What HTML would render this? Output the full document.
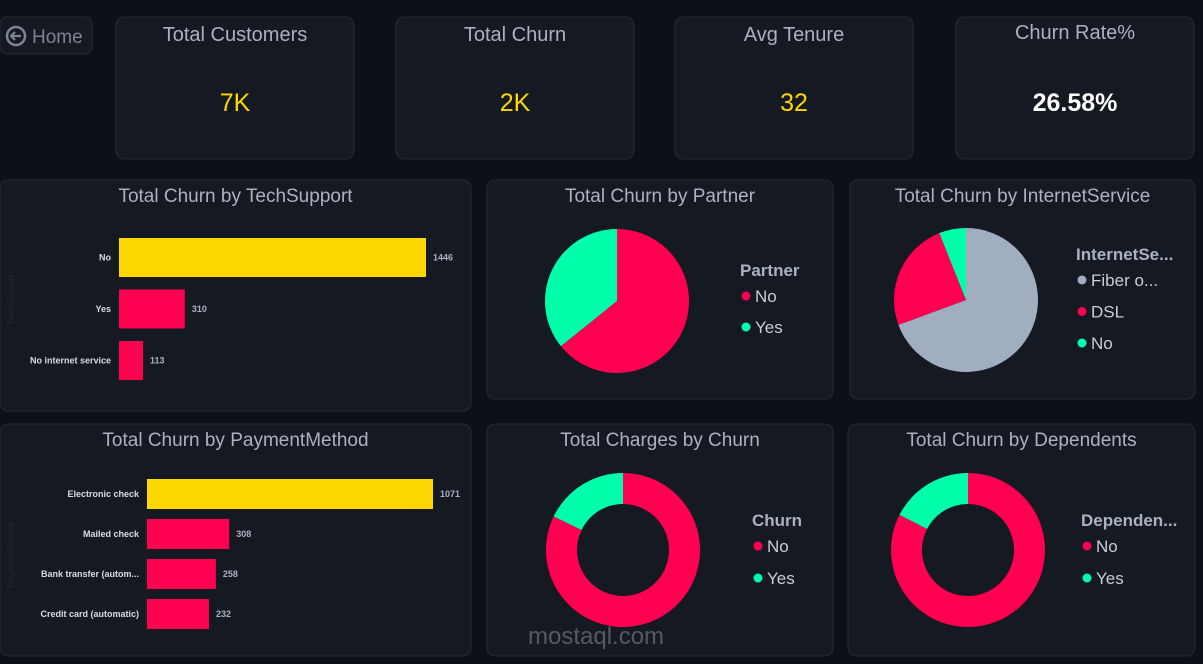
<!DOCTYPE html>
<html><head><meta charset="utf-8">
<style>
html,body{margin:0;padding:0;background:#0c1018;width:1203px;height:664px;overflow:hidden;font-family:"Liberation Sans",sans-serif}
svg{display:block}
</style></head>
<body>
<svg id="s" width="1203" height="664" xmlns="http://www.w3.org/2000/svg">
<rect x="0" y="0" width="1203" height="664" fill="#0c1018"/>
<g>
<rect x="0" y="17" width="92" height="37" rx="7" fill="#151922" stroke="#262b35"/>
<circle cx="16" cy="36" r="9" fill="none" stroke="#7d8594" stroke-width="2.5"/>
<path d="M21 36 H12 M15 32 L11 36 L15 40" stroke="#7d8594" stroke-width="2.2" fill="none"/>
<text x="32" y="43" font-size="19" fill="#7d8594">Home</text>
</g>
<g id="kpis"></g>
<g id="cards"></g>
<text x="528" y="644" font-size="24" fill="#8a8e96" opacity="0.55">mostaql.com</text>
</svg>
<script>
const NS="http://www.w3.org/2000/svg";
const svg=document.getElementById('s');
function el(tag,attrs,parent,txt){const e=document.createElementNS(NS,tag);for(const k in attrs)e.setAttribute(k,attrs[k]);if(txt!==undefined)e.textContent=txt;(parent||svg).appendChild(e);return e;}

// KPI data
const kpiTitles=["Total Customers","Total Churn","Avg Tenure","Churn Rate%"];
const kpiValues=["7K","2K","32","26.58%"];
const kpiColors=["#ffd700","#ffd700","#ffd700","#ffffff"];
const kpiX=[116,396,675,956];
kpiTitles.forEach((t,i)=>{
  const g=el('g',{},document.getElementById('kpis'));
  
  
  el('rect',{x:kpiX[i],y:17,width:238,height:142,rx:8,fill:'#151922',stroke:'#262b35'},g);
  const tt=el('text',{x:kpiX[i]+119,y:i==3?39:41,'text-anchor':'middle','font-size':20,fill:'#aab2c2'},g,t);
  
  
  const v=el('text',{x:kpiX[i]+119,y:111,'text-anchor':'middle','font-size':25,'font-weight':i==3?'bold':'normal',fill:kpiColors[i]},g,kpiValues[i]);
  
  
});

const cards=document.getElementById('cards');
function card(x,y,w,h,title,name){
  const g=el('g',{},cards);
  
  
  el('rect',{x:x,y:y,width:w,height:h,rx:8,fill:'#151922',stroke:'#262b35'},g);
  const t=el('text',{x:x+w/2,y:y+22,'text-anchor':'middle','font-size':19,fill:'#aab2c2'},g,title);
  
  
  return g;
}

// Bar chart data
const techCats=["No","Yes","No internet service"];
const techVals=[1446,310,113];
const payCats=["Electronic check","Mailed check","Bank transfer (autom...","Credit card (automatic)"];
const payVals=[1071,308,258,232];

function bars(g,cats,vals,x0,pxPerMax,maxV,y0,step,bh,axisTitle,ay){
  const xs=v=>v/maxV*pxPerMax;
  const mx=Math.max(...vals);
  const at=el('text',{x:14,y:ay,'font-size':9,fill:'#232833',transform:'rotate(-90 14 '+ay+')','text-anchor':'middle'},g,axisTitle);
  
  
  cats.forEach((c,i)=>{
    const y=y0+i*step;
    const b=el('rect',{x:x0,y:y,width:xs(vals[i]),height:bh,fill:vals[i]===mx?'#ffd700':'#ff0050'},g);
    
    
    const l=el('text',{x:x0-8,y:y+bh/2+3,'text-anchor':'end','font-size':9,'font-weight':'bold',fill:'#d8dce4'},g,c);
    
    
    const v=el('text',{x:x0+xs(vals[i])+7,y:y+bh/2+3,'font-size':9,'font-weight':'bold',fill:'#aab2c2'},g,vals[i]);
    
    
  });
}
const g1=card(0,180,471,231,"Total Churn by TechSupport","techsupport-bar-chart");
bars(g1,techCats,techVals,119,307,1446,238,51.5,39,"TechSupport",300);
const g4=card(0,424,471,232,"Total Churn by PaymentMethod","paymentmethod-bar-chart");
bars(g4,payCats,payVals,147,286,1071,479,40,30,"PaymentMethod",555);

// Pie data
const partnerCats=["No","Yes"];
const partnerVals=[1200,669];
const internetCats=["Fiber o...","DSL","No"];
const internetVals=[1297,459,113];
const chargesCats=["No","Yes"];
const chargesVals=[13.19,2.86];
const depCats=["No","Yes"];
const depVals=[1543,326];

function pie(g,cats,vals,colors,cx,cy,r,ir,legTitle,lx,ly,lstep){
  const tot=vals.reduce((a,b)=>a+b,0);
  let a=0;
  cats.forEach((c,i)=>{
    const a1=a+vals[i]/tot*2*Math.PI;
    const p=(ang,rr)=>[cx+rr*Math.sin(ang),cy-rr*Math.cos(ang)];
    const [x0,y0]=p(a,r),[x1,y1]=p(a1,r);
    const large=(a1-a)>Math.PI?1:0;
    let d;
    if(ir>0){const [x2,y2]=p(a1,ir),[x3,y3]=p(a,ir);
      d=`M${x0} ${y0} A${r} ${r} 0 ${large} 1 ${x1} ${y1} L${x2} ${y2} A${ir} ${ir} 0 ${large} 0 ${x3} ${y3} Z`;}
    else d=`M${cx} ${cy} L${x0} ${y0} A${r} ${r} 0 ${large} 1 ${x1} ${y1} Z`;
    const s=el('path',{d:d,fill:colors[i]},g);
    
    
    a=a1;
  });
  const lt=el('text',{x:lx,y:ly,'font-size':17,'font-weight':'bold',fill:'#aab2c2'},g,legTitle);
  
  
  cats.forEach((c,i)=>{
    const y=ly+26+i*lstep;
    const lg=el('g',{},g);
    
    
    el('circle',{cx:lx+6,cy:y-6,r:4.5,fill:colors[i]},lg);
    el('text',{x:lx+15,y:y,'font-size':17,fill:'#c8cdd6'},lg,c);
  });
}
const g2=card(487,180,346,219,"Total Churn by Partner","partner-pie-chart");
pie(g2,partnerCats,partnerVals,['#ff0050','#00ffaa'],617,301,72,0,"Partner",740,276,31);
const g3=card(850,180,345,219,"Total Churn by InternetService","internetservice-pie-chart");
pie(g3,internetCats,internetVals,['#a0aec0','#ff0050','#00ffaa'],966,300,72,0,"InternetSe...",1076,260,31.5);
const g5=card(487,424,346,232,"Total Charges by Churn","charges-donut-chart");
pie(g5,chargesCats,chargesVals,['#ff0050','#00ffaa'],623,550,77,46,"Churn",752,526,32);
const g6=card(848,424,347,232,"Total Churn by Dependents","dependents-donut-chart");
pie(g6,depCats,depVals,['#ff0050','#00ffaa'],968,550,77,46,"Dependen...",1081,526,32);
</script>
</body></html>
